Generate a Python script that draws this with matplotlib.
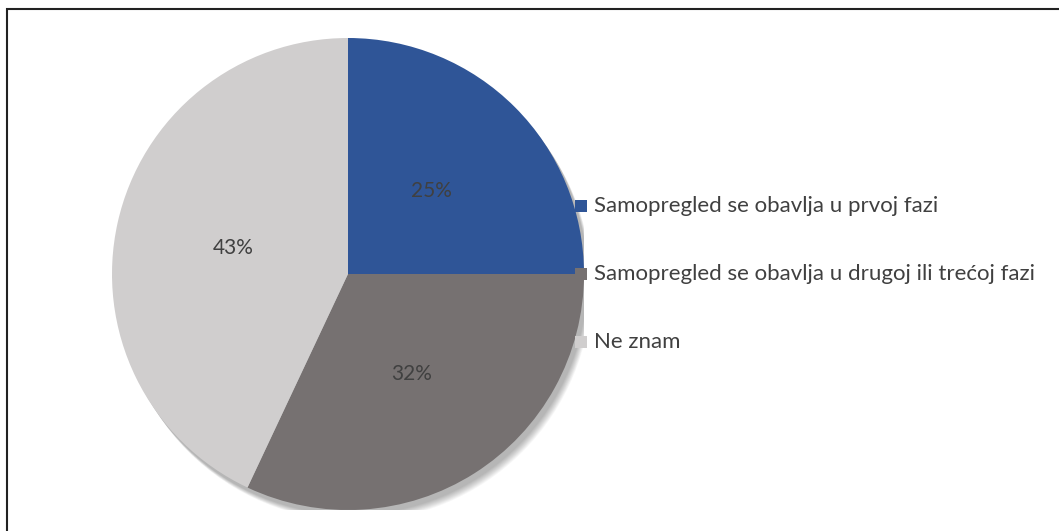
import matplotlib.pyplot as plt
from matplotlib.patches import Rectangle, Circle

# data
labels = ["Samopregled se obavlja u prvoj fazi",
          "Samopregled se obavlja u drugoj ili trećoj fazi",
          "Ne znam"]
values = [25, 32, 43]
colors = ["#2F5597", "#767171", "#D0CECE"]

plt.rcParams['font.family'] = ['Lato', 'DejaVu Sans']

W, H = 1059, 531
fig = plt.figure(figsize=(W / 100, H / 100), dpi=100)

# outer frame (top and left visible only)
fig.add_artist(Rectangle((7 / W, -0.1), 1.2, (H - 9) / H + 0.1, transform=fig.transFigure,
                         fill=False, edgecolor="#222222", linewidth=1.5))

# pie axes: centre (348, 274), radius 236 px
cx, cy, r = 348, 274, 236
ax = fig.add_axes([(cx - r) / W, (H - cy - r) / H, 2 * r / W, 2 * r / H])

# soft shadow, offset down-right
for i in range(10):
    ax.add_patch(Circle((0.014 + 0.002 * i, -0.02 - 0.003 * i), 1.0, color="black",
                        alpha=0.03, zorder=0, linewidth=0))

wedges, texts, autotexts = ax.pie(
    values, colors=colors, startangle=90, counterclock=False, radius=1,
    autopct=lambda p: f"{p:.0f}%", pctdistance=0.5,
    textprops={"fontsize": 15, "color": "#404040"},
    wedgeprops={"linewidth": 0},
)
for w in wedges:
    w.set_zorder(2)
for t in autotexts:
    t.set_zorder(3)

ax.set_xlim(-1, 1)
ax.set_ylim(-1, 1)
ax.set_aspect("equal")
ax.axis("off")

# legend drawn by hand
ys = [206, 274, 342]
for lab, col, y in zip(labels, colors, ys):
    fig.add_artist(Rectangle((575 / W, (H - y - 6) / H), 12 / W, 12 / H,
                             transform=fig.transFigure, facecolor=col, edgecolor="none", zorder=5))
    fig.text(594 / W, (H - y) / H, lab, fontsize=16, color="#404040", va="center", ha="left")

fig.savefig("out.png", dpi=100)
